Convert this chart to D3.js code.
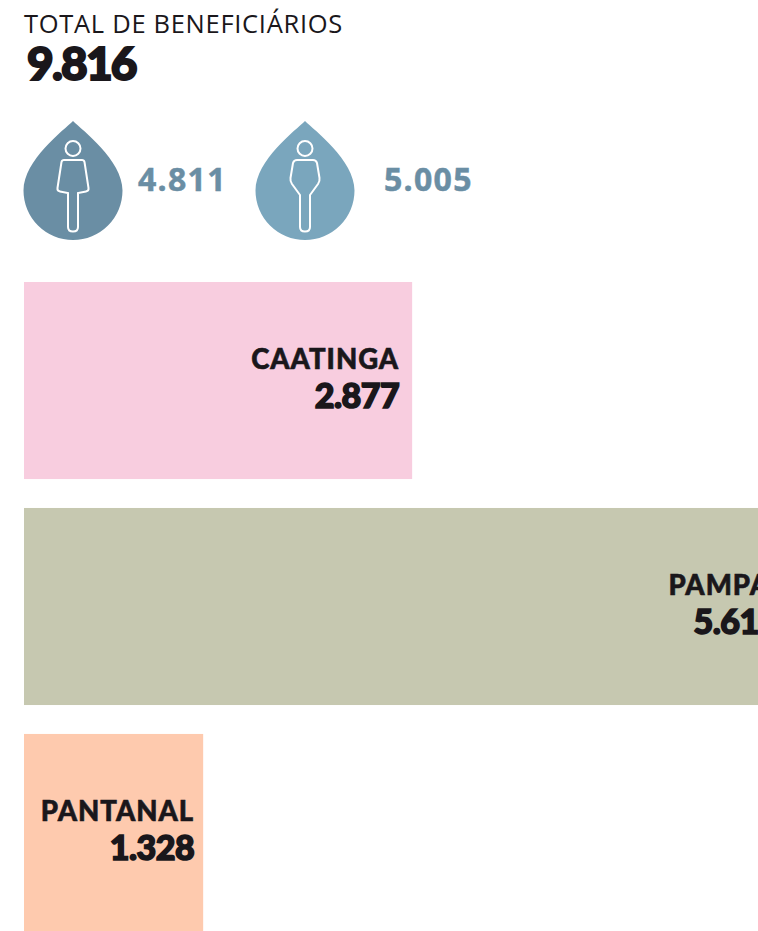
<!DOCTYPE html>
<html>
<head>
<meta charset="utf-8">
<script src="https://cdn.jsdelivr.net/npm/d3@7"></script>
<style>
html, body { margin: 0; padding: 0; background: #fff; overflow: hidden; }
</style>
</head>
<body>
<svg id="chart"></svg>
<script>
var biomes = ["CAATINGA", "PAMPA", "PANTANAL"];
var biome_values = [2877, 5611, 1328];
var biome_colors = ["#f8cddf", "#c6c8b0", "#fecaae"];
var gender_values = [4811, 5005];
var gender_colors = ["#6a8ea4", "#7aa6bd"];
var total_label = "TOTAL DE BENEFICIÁRIOS";
var total_value = 9816;

var svg_width = 758, svg_height = 931;
var ink = "#1a171b";
var heavy_font = "Lato, 'Open Sans', sans-serif";

var fmt = function (d) { return d3.format(",")(d).replace(",", "."); };

var svg = d3.select("#chart")
	.attr("width", svg_width)
	.attr("height", svg_height);

// header
svg.append("text")
	.attr("x", 24)
	.attr("y", 33)
	.attr("font-family", "'Open Sans', sans-serif")
	.attr("font-size", 25.5)
	.attr("letter-spacing", 0.7)
	.attr("fill", ink)
	.text(total_label);

svg.append("text")
	.attr("x", 27)
	.attr("y", 80)
	.attr("font-family", heavy_font)
	.attr("font-weight", 900)
	.attr("font-size", 46)
	.attr("letter-spacing", -1.8)
	.attr("stroke", ink)
	.attr("stroke-width", 2)
	.attr("fill", ink)
	.text(fmt(total_value));

// gender icons
var drop = "M0,-59 C9,-50 49.500,-20 49.500,10.500 A49.500,49.500 0 0 1 -49.500,10.500 C-49.500,-20 -9,-50 0,-59 Z";
var woman = "M-9,-20 L9,-20 Q11,-20 11.500,-18 L15.500,8 Q16,11 13,11.500 L5,13 L5,47 Q5,51.500 0,51.500 Q-5,51.500 -5,47 L-5,13 L-13,11.500 Q-16,11 -15.500,8 L-11.500,-18 Q-11,-20 -9,-20 Z";
var man = "M-8,-20 L8,-20 Q11,-20 12,-17 L14.500,-2 Q15,1 13,4 L5,15 L5,47 Q5,51.500 0,51.500 Q-5,51.500 -5,47 L-5,15 L-13,4 Q-15,1 -14.500,-2 L-12,-17 Q-11,-20 -8,-20 Z";

var gender_groups = [
	{ cx: 73, body: woman, tx: 138 },
	{ cx: 305, body: man, tx: 384 }
];

gender_groups.forEach(function (g, i) {
	var icon = svg.append("g").attr("transform", "translate(" + g.cx + ",180)");
	icon.append("path").attr("d", drop).attr("fill", gender_colors[i]);
	icon.append("circle").attr("cy", -31.5).attr("r", 7.5)
		.attr("fill", "none").attr("stroke", "#fff").attr("stroke-width", 2);
	icon.append("path").attr("d", g.body)
		.attr("fill", "none").attr("stroke", "#fff").attr("stroke-width", 2);
	svg.append("text")
		.attr("x", g.tx)
		.attr("y", 191)
		.attr("font-family", "'Open Sans', sans-serif")
		.attr("font-weight", 700)
		.attr("font-size", 32)
		.attr("letter-spacing", 1.3)
		.attr("stroke", "#6a8ea4")
		.attr("stroke-width", 0.5)
		.attr("fill", "#6a8ea4")
		.text(fmt(gender_values[i]));
});

// bars
var x = d3.scaleLinear().domain([0, 5611]).range([0, 757]);
var y = d3.scaleBand().domain(biomes).range([282, 931]).paddingInner(0.128);
var label_gap = [13, 11, 9];
var value_gap = [13, 3, 9];

var rows = svg.selectAll("g.bar")
	.data(biomes)
	.enter().append("g")
	.attr("class", "bar")
	.attr("transform", function (d) { return "translate(24," + y(d) + ")"; });

rows.append("rect")
	.attr("width", function (d, i) { return x(biome_values[i]); })
	.attr("height", y.bandwidth())
	.attr("fill", function (d, i) { return biome_colors[i]; });

rows.append("text")
	.attr("x", function (d, i) { return x(biome_values[i]) - label_gap[i]; })
	.attr("y", 87)
	.attr("text-anchor", "end")
	.attr("font-family", heavy_font)
	.attr("font-weight", 900)
	.attr("font-size", 27.5)
	.attr("letter-spacing", 1)
	.attr("stroke", ink)
	.attr("stroke-width", 0.6)
	.attr("fill", ink)
	.text(function (d) { return d; });

rows.append("text")
	.attr("x", function (d, i) { return x(biome_values[i]) - value_gap[i]; })
	.attr("y", 126)
	.attr("text-anchor", "end")
	.attr("font-family", heavy_font)
	.attr("font-weight", 900)
	.attr("font-size", 34)
	.attr("letter-spacing", -0.5)
	.attr("stroke", ink)
	.attr("stroke-width", 1.6)
	.attr("fill", ink)
	.text(function (d, i) { return fmt(biome_values[i]); });
</script>
</body>
</html>
